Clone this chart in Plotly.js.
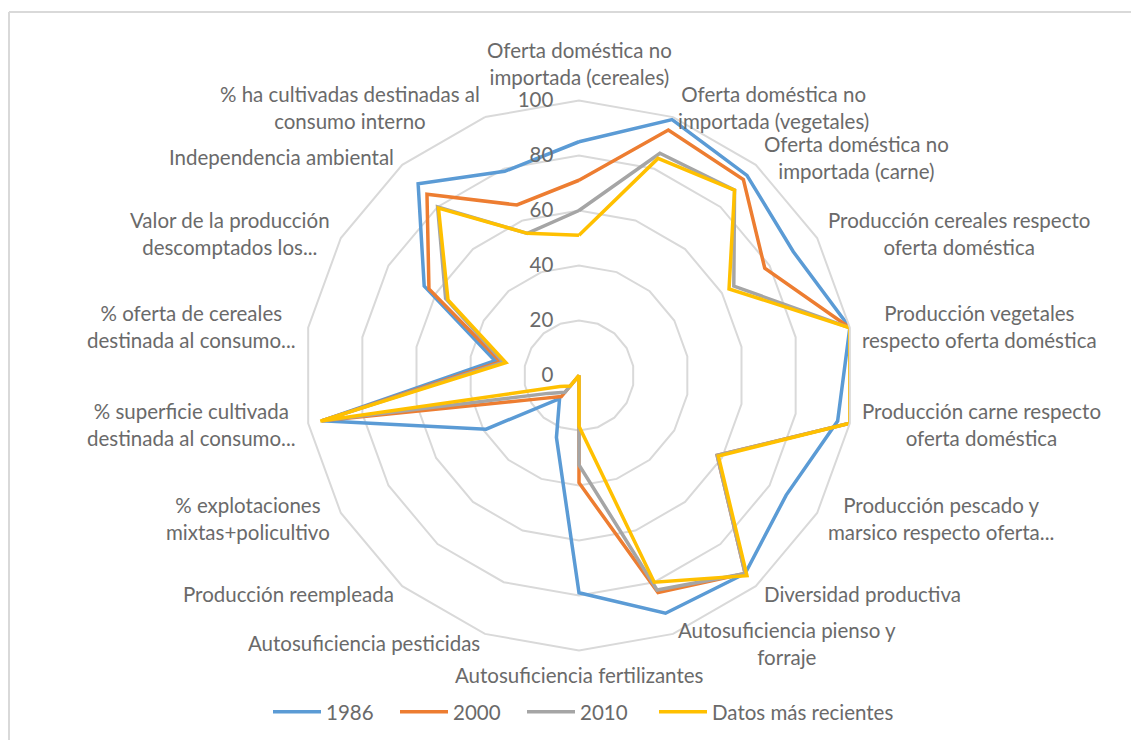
<!DOCTYPE html>
<html>
<head>
<meta charset="utf-8">
<script src="https://cdn.plot.ly/plotly-3.0.1.min.js"></script>
<style>
html,body{margin:0;padding:0;background:#fff;}
#chart{width:1131px;height:740px;}
</style>
</head>
<body>
<div id="chart"></div>
<script>
const categories = [
  "Oferta doméstica no<br>importada (cereales)",
  "Oferta doméstica no<br>importada (vegetales)",
  "Oferta doméstica no<br>importada (carne)",
  "Producción cereales respecto<br>oferta doméstica",
  "Producción vegetales<br>respecto oferta doméstica",
  "Producción carne respecto<br>oferta doméstica",
  "Producción pescado y<br>marsico respecto oferta...",
  "Diversidad productiva",
  "Autosuficiencia pienso y<br>forraje",
  "Autosuficiencia fertilizantes",
  "Autosuficiencia pesticidas",
  "Producción reempleada",
  "% explotaciones<br>mixtas+policultivo",
  "% superficie cultivada<br>destinada al consumo...",
  "% oferta de cereales<br>destinada al consumo...",
  "Valor de la producción<br>descomptados los...",
  "Independencia ambiental",
  "% ha cultivadas destinadas al<br>consumo interno"
];
const seriesNames = ["1986", "2000", "2010", "Datos más recientes"];
const values1986   = [85, 99, 95, 90, 100, 95.5, 87, 94, 92, 79, 24, 11, 39, 95, 31, 65, 91, 79];
const values2000   = [71, 95, 93, 78, 100, 100, 58, 94, 84, 39, 0, 10, 17, 95, 29, 63, 86, 66];
const values2010   = [60, 86, 88, 65, 100, 100, 58, 94, 83, 32.5, 0, 8, 13, 95, 28, 56, 80, 55];
const valuesRecent = [51, 84, 88, 63, 100, 100, 58.5, 95, 80, 18.5, 0, 5, 8, 95.5, 27, 55, 79.5, 55];
const radialTicks = [0, 20, 40, 60, 80, 100];
const colors = ["#5B9BD5", "#ED7D31", "#A5A5A5", "#FFC000"];

const FONT = "Lato, 'Open Sans', sans-serif";
const TEXT = "#6a6a6a";
const FS = 20.5;

const W = 1131, H = 740;
const cx = 579, cy = 375.5, R = 275, PAD = 10;

const allValues = [values1986, values2000, values2010, valuesRecent];
const traces = allValues.map((vals, i) => ({
  type: "scatterpolar",
  mode: "lines",
  name: seriesNames[i],
  legend: i < 3 ? "legend" : "legend2",
  r: vals.concat([vals[0]]),
  theta: categories.concat([categories[0]]),
  line: {color: colors[i], width: 3.5},
  hoverinfo: "skip"
}));

// category labels placed around the outer polygon, like the spreadsheet layout
const annotations = categories.map((label, i) => {
  const a = (i * 360 / categories.length) * Math.PI / 180;
  const s = Math.sin(a), c = Math.cos(a);
  const px = cx + (R + PAD) * s;
  const py = cy - (R + PAD) * c;
  return {
    xref: "paper", yref: "paper",
    x: px / W, y: 1 - py / H,
    text: label, showarrow: false, align: "center",
    xanchor: Math.abs(s) < 0.1 ? "center" : (s > 0 ? "left" : "right"),
    yanchor: c > 0.99 ? "bottom" : (c < -0.99 ? "top" : "middle"),
    font: {family: FONT, size: FS, color: TEXT}
  };
});

const legendBase = {
  orientation: "h", xanchor: "left", y: (H - 712) / H, yanchor: "middle",
  itemwidth: 48,
  font: {family: FONT, size: FS, color: TEXT}, bgcolor: "rgba(0,0,0,0)"
};

const layout = {
  width: W, height: H,
  margin: {l: 0, r: 0, t: 0, b: 0},
  paper_bgcolor: "#ffffff",
  font: {family: FONT, size: FS, color: TEXT},
  showlegend: true,
  legend: Object.assign({}, legendBase, {x: 268 / W, entrywidth: 64, entrywidthmode: "pixels"}),
  legend2: Object.assign({}, legendBase, {x: 654 / W}),
  polar: {
    domain: {x: [(cx - R) / W, (cx + R) / W], y: [(H - cy - R) / H, (H - cy + R) / H]},
    bgcolor: "#ffffff",
    gridshape: "linear",
    angularaxis: {
      type: "category",
      categoryarray: categories,
      direction: "clockwise",
      rotation: 90,
      showgrid: false,
      showline: true,
      linecolor: "#d9d9d9",
      linewidth: 2,
      ticks: "",
      showticklabels: false
    },
    radialaxis: {
      range: [0, 100],
      angle: 90,
      side: "counterclockwise",
      tickangle: 90,
      tickmode: "array",
      tickvals: radialTicks,
      ticktext: radialTicks.map(String),
      showline: false,
      ticks: "outside",
      ticklen: 18,
      tickcolor: "rgba(0,0,0,0)",
      gridcolor: "#d9d9d9",
      gridwidth: 2,
      tickfont: {family: FONT, size: FS, color: TEXT}
    }
  },
  annotations: annotations,
  shapes: [
    {type: "line", xref: "paper", yref: "paper", x0: 9 / W, x1: 1.01, y0: (H - 12) / H, y1: (H - 12) / H, line: {color: "#d9d9d9", width: 2}},
    {type: "line", xref: "paper", yref: "paper", x0: 9 / W, x1: 9 / W, y0: -0.01, y1: (H - 12) / H, line: {color: "#d9d9d9", width: 2}}
  ]
};

Plotly.newPlot("chart", traces, layout, {displayModeBar: false, staticPlot: true});
</script>
</body>
</html>
